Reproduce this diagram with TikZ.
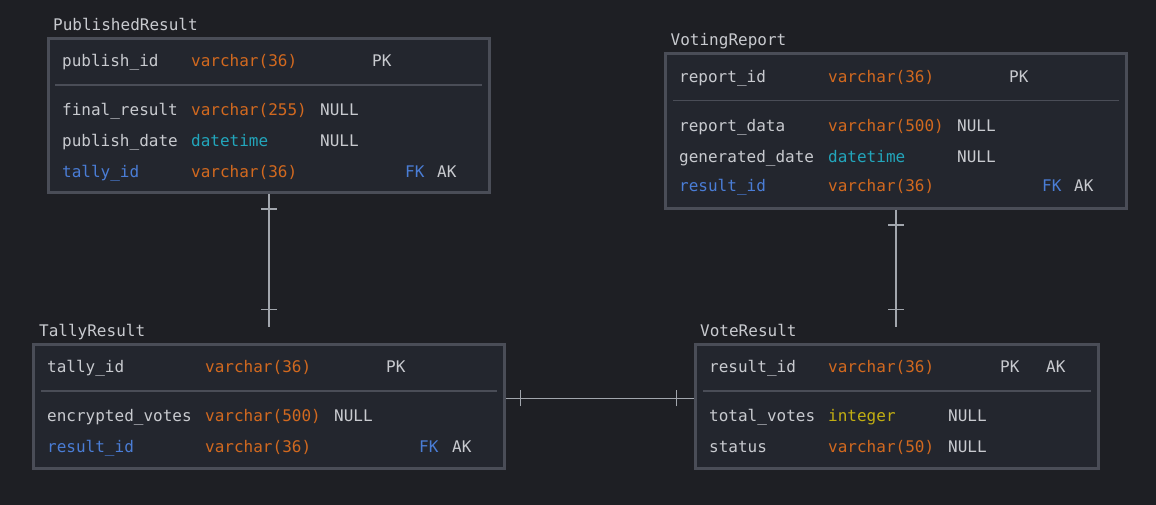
\documentclass[tikz,border=0pt]{standalone}
\usepackage{fontspec}
\usepackage{tikz}
\usetikzlibrary{decorations.markings}
\newfontfamily\erfont{DejaVu Sans Mono}
\definecolor{bg}{HTML}{1E1F24}
\definecolor{boxfill}{HTML}{23262E}
\definecolor{boxline}{HTML}{4A4D57}
\definecolor{txt}{HTML}{C8CACF}
\definecolor{orng}{HTML}{D2691F}
\definecolor{cyn}{HTML}{22A6BC}
\definecolor{ylw}{HTML}{C2AE12}
\definecolor{blu}{HTML}{4A7DD6}
\definecolor{connline}{HTML}{A2A6AD}

\begin{document}
\begin{tikzpicture}[
    x=1pt, y=-1pt,
    tbl/.style={rectangle, draw=boxline, fill=boxfill, line width=3pt, inner sep=0pt},
    cell/.style={anchor=base west, inner sep=0pt, font=\erfont\fontsize{16}{18}\selectfont, text=txt},
    ttl/.style={cell},
    fld/.style={cell},
    fkname/.style={cell, text=blu},
    typ/.style={cell, text=orng},
    dtm/.style={cell, text=cyn},
    intg/.style={cell, text=ylw},
    fkey/.style={cell, text=blu},
    sepline/.style={draw=boxline, line width=1.3pt},
    conn/.style={draw=connline, line width=1.5pt, postaction={decorate},
        decoration={markings,
            mark=at position 15pt with {\draw[connline, line width=1.5pt] (0pt,-8pt) -- (0pt,8pt);},
            mark=at position -17pt with {\draw[connline, line width=1.5pt] (0pt,-8pt) -- (0pt,8pt);}}}
]
    \useasboundingbox[fill=bg] (0,0) rectangle (1156,505);

    % Tables (boxes at pixel positions)
    \node[tbl, minimum width=441.5pt, minimum height=153.5pt] (pr) at (268.75,115.75) {};
    \node[tbl, minimum width=461pt,   minimum height=154.5pt] (vr) at (896,131.25)    {};
    \node[tbl, minimum width=470.5pt, minimum height=123.2pt] (tr) at (268.75,406.4)  {};
    \node[tbl, minimum width=403pt,   minimum height=123.2pt] (vo) at (896.5,406.4)   {};

    % Key separators
    \draw[sepline] (55,85)    -- (482,85);
    \draw[sepline] (673,100.5) -- (1119,100.5);
    \draw[sepline] (41,391)   -- (496.5,391);
    \draw[sepline] (703,391)  -- (1090.5,391);

    % Titles
    \node[ttl] (pr-title) at (53,31)    {PublishedResult};
    \node[ttl] (vr-title) at (670.5,46) {VotingReport};
    \node[ttl] (tr-title) at (39,336)   {TallyResult};
    \node[ttl] (vo-title) at (700,336.5) {VoteResult};

    % PublishedResult
    \node[fld] (pr-id) at (62,66.5) {publish\_id};
    \node[typ] (pr-id-t) at (191,66.5) {varchar(36)};
    \node[fld] (pr-id-pk) at (372,66.5) {PK};
    \node[fld] (pr-fr) at (62,115.5) {final\_result};
    \node[typ] (pr-fr-t) at (191,115.5) {varchar(255)};
    \node[fld] (pr-fr-n) at (320,115.5) {NULL};
    \node[fld] (pr-pd) at (62,146.5) {publish\_date};
    \node[dtm] (pr-pd-t) at (191,146.5) {datetime};
    \node[fld] (pr-pd-n) at (320,146.5) {NULL};
    \node[fkname] (pr-ti) at (62,177.5) {tally\_id};
    \node[typ] (pr-ti-t) at (191,177.5) {varchar(36)};
    \node[fkey] (pr-ti-fk) at (405,177.5) {FK};
    \node[fld] (pr-ti-ak) at (437,177.5) {AK};

    % VotingReport
    \node[fld] (vr-id) at (679,82.5) {report\_id};
    \node[typ] (vr-id-t) at (828,82.5) {varchar(36)};
    \node[fld] (vr-id-pk) at (1009,82.5) {PK};
    \node[fld] (vr-rd) at (679,131.5) {report\_data};
    \node[typ] (vr-rd-t) at (828,131.5) {varchar(500)};
    \node[fld] (vr-rd-n) at (957,131.5) {NULL};
    \node[fld] (vr-gd) at (679,162.3) {generated\_date};
    \node[dtm] (vr-gd-t) at (828,162.3) {datetime};
    \node[fld] (vr-gd-n) at (957,162.3) {NULL};
    \node[fkname] (vr-ri) at (679,192) {result\_id};
    \node[typ] (vr-ri-t) at (828,192) {varchar(36)};
    \node[fkey] (vr-ri-fk) at (1042,192) {FK};
    \node[fld] (vr-ri-ak) at (1074,192) {AK};

    % TallyResult
    \node[fld] (tr-id) at (47,372.3) {tally\_id};
    \node[typ] (tr-id-t) at (205,372.3) {varchar(36)};
    \node[fld] (tr-id-pk) at (386,372.3) {PK};
    \node[fld] (tr-ev) at (47,421) {encrypted\_votes};
    \node[typ] (tr-ev-t) at (205,421) {varchar(500)};
    \node[fld] (tr-ev-n) at (334,421) {NULL};
    \node[fkname] (tr-ri) at (47,452.3) {result\_id};
    \node[typ] (tr-ri-t) at (205,452.3) {varchar(36)};
    \node[fkey] (tr-ri-fk) at (419,452.3) {FK};
    \node[fld] (tr-ri-ak) at (452,452.3) {AK};

    % VoteResult
    \node[fld] (vo-id) at (709,372.3) {result\_id};
    \node[typ] (vo-id-t) at (828,372.3) {varchar(36)};
    \node[fld] (vo-id-pk) at (1000,372.3) {PK};
    \node[fld] (vo-id-ak) at (1046,372.3) {AK};
    \node[fld] (vo-tv) at (709,421) {total\_votes};
    \node[intg] (vo-tv-t) at (828,421) {integer};
    \node[fld] (vo-tv-n) at (948,421) {NULL};
    \node[fld] (vo-st) at (709,452.3) {status};
    \node[typ] (vo-st-t) at (828,452.3) {varchar(50)};
    \node[fld] (vo-st-n) at (948,452.3) {NULL};

    % Relations (one to one)
    \coordinate (tr-top) at (268.75,326.7);
    \coordinate (vo-top) at (896,326.7);
    \draw[conn] (pr.south) -- (tr-top);
    \draw[conn] (vr.south) -- (vo-top);
    \draw[conn] ([yshift=8pt]tr.east) -- ([yshift=8pt]vo.west);
\end{tikzpicture}
\end{document}
